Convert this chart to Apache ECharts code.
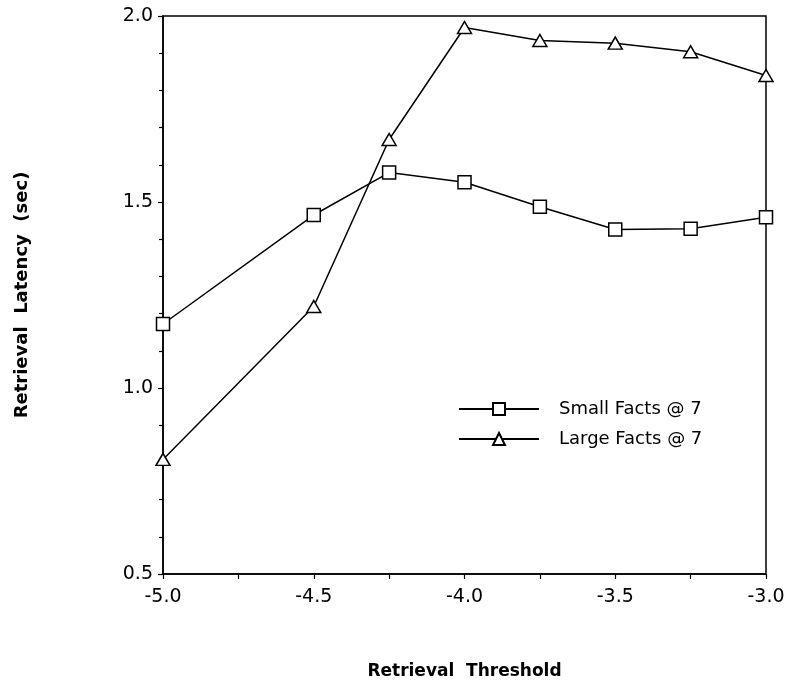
<!DOCTYPE html>
<html>
<head>
<meta charset="utf-8">
<script src="https://cdn.jsdelivr.net/npm/echarts@6/dist/echarts.min.js"></script>
<style>html,body{margin:0;padding:0;background:#fff;}#c{width:790px;height:685px;}</style>
</head>
<body>
<div id="c"></div>
<script>
var thresholds = [-5.0, -4.5, -4.25, -4.0, -3.75, -3.5, -3.25, -3.0];
var smallFacts = [1.172, 1.465, 1.579, 1.553, 1.487, 1.426, 1.428, 1.459];
var largeFacts = [0.808, 1.219, 1.668, 1.969, 1.934, 1.927, 1.904, 1.840];
var seriesNames = ['Small Facts @ 7', 'Large Facts @ 7'];
var xTitle = 'Retrieval  Threshold';
var yTitle = 'Retrieval  Latency  (sec)';

function pairs(xs, ys) { return xs.map(function (x, i) { return [x, ys[i]]; }); }

var chart = echarts.init(document.getElementById('c'), null, { renderer: 'canvas' });
var font = 'DejaVu Sans, Verdana, sans-serif';
var lineStyle = { color: '#000', width: 1.5 };
chart.setOption({
  animation: false,
  backgroundColor: '#fff',
  grid: { left: 163, right: 24, top: 16, bottom: 108, show: true, borderColor: '#000', borderWidth: 1.5, backgroundColor: 'transparent' },
  legend: {
    orient: 'vertical', left: 453, top: 395,
    itemWidth: 80, itemHeight: 15, itemGap: 12,
    textStyle: { fontFamily: font, fontSize: 18, color: '#000', padding: [0, 0, 0, 15] },
    data: seriesNames
  },
  xAxis: {
    type: 'value', min: -5.0, max: -3.0, interval: 0.5,
    name: xTitle, nameLocation: 'middle', nameGap: 89,
    nameTextStyle: { fontFamily: font, fontSize: 17, fontWeight: 'bold', color: '#000' },
    axisLine: { onZero: false, lineStyle: { color: '#000', width: 1.5 } },
    axisTick: { show: true, inside: false, length: 5, lineStyle: { color: '#000', width: 1.2 } },
    minorTick: { show: true, splitNumber: 2, length: 5, lineStyle: { color: '#000', width: 1.2 } },
    splitLine: { show: false },
    axisLabel: { fontFamily: font, fontSize: 19, color: '#000', margin: 14, formatter: function (v) { return v.toFixed(1); } }
  },
  yAxis: {
    type: 'value', min: 0.5, max: 2.0, interval: 0.5,
    name: yTitle, nameLocation: 'middle', nameGap: 132, nameRotate: 90,
    nameTextStyle: { fontFamily: font, fontSize: 18, fontWeight: 'bold', color: '#000' },
    axisLine: { onZero: false, lineStyle: { color: '#000', width: 1.5 } },
    axisTick: { show: true, inside: false, length: 5, lineStyle: { color: '#000', width: 1.2 } },
    minorTick: { show: true, splitNumber: 5, length: 4, lineStyle: { color: '#000', width: 1.2 } },
    splitLine: { show: false },
    axisLabel: { fontFamily: font, fontSize: 19, color: '#000', margin: 10, formatter: function (v) { return v.toFixed(1); } }
  },
  series: [
    {
      name: seriesNames[0], type: 'line', data: pairs(thresholds, smallFacts),
      symbol: 'rect', symbolSize: 13, showAllSymbol: true,
      lineStyle: lineStyle, itemStyle: { color: '#fff', borderColor: '#000', borderWidth: 1.5 }
    },
    {
      name: seriesNames[1], type: 'line', data: pairs(thresholds, largeFacts),
      symbol: 'triangle', symbolSize: [14, 12], showAllSymbol: true,
      lineStyle: lineStyle, itemStyle: { color: '#fff', borderColor: '#000', borderWidth: 1.5 }
    }
  ]
});
</script>
</body>
</html>
